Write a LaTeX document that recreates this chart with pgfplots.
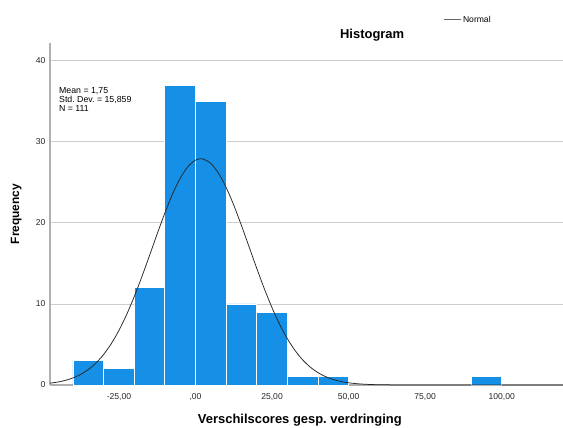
\documentclass[border=0pt]{standalone}
\usepackage{fontspec}
\setmainfont{Liberation Sans}
\usepackage{pgfplots}
\pgfplotsset{compat=1.18}
\definecolor{barblue}{RGB}{21,144,230}
\definecolor{gridgray}{RGB}{205,205,205}
\definecolor{axgray}{RGB}{175,175,175}
\frenchspacing
\begin{document}
\begin{tikzpicture}
\useasboundingbox (-50bp,-43bp) rectangle (513bp,385bp);
\begin{axis}[
  at={(0,0)}, anchor=south west,
  scale only axis, width=513bp, height=342bp,
  xmin=-47.5, xmax=120, ymin=0, ymax=42.2,
  axis lines=left,
  axis line style={-, draw=axgray, line width=1.6bp},
  major tick length=0pt,
  ytick={0,10,20,30,40},
  ymajorgrids, grid style={draw=gridgray, line width=0.9bp},
  xtick={-25,0,25,50,75,100},
  xticklabels={{-25,00},{,00},{25,00},{50,00},{75,00},{100,00}},
  /pgf/number format/assume math mode=true,
  tick label style={font=\fontsize{8.6}{10}\selectfont, text=black!85},
  yticklabel style={xshift=-1bp},
  xticklabel style={yshift=-5bp},
  xlabel={Verschilscores gesp. verdringing},
  ylabel={Frequency},
  xlabel style={font=\fontsize{13}{15}\selectfont\bfseries, at={(axis description cs:0.487,-0.102)}, anchor=center},
  ylabel style={font=\fontsize{12}{14}\selectfont\bfseries, at={(axis description cs:-0.066,0.5)}, anchor=center, rotate=0},
  title={Histogram},
  title style={font=\fontsize{13}{15}\selectfont\bfseries, at={(axis description cs:0.628,1.0)}, anchor=south, yshift=-8bp},
  legend style={at={(axis description cs:0.766,1.068)}, anchor=west, draw=none, fill=none, inner sep=0pt,
    font=\fontsize{8.6}{10}\selectfont, legend cell align=left,
    /tikz/every even column/.append style={column sep=0pt}},
  legend image code/.code={\draw[gray!80!black, line width=0.9bp] (0bp,0bp) -- (17bp,0bp);},
  clip=false,
]
\addplot[ybar interval, fill=barblue, draw=white, line width=0.9bp, forget plot]
  coordinates {(-40,3) (-30,2) (-20,12) (-10,37) (0,35) (10,10) (20,9) (30,1) (40,1) (50,1)};
\addplot[ybar interval, fill=barblue, draw=white, line width=0.9bp, forget plot]
  coordinates {(90,1) (100,1)};
\addplot[black!85, line width=0.75bp, smooth, mark=none] coordinates {
(-47.5,0.225) (-45,0.362) (-42.5,0.569) (-40,0.873) (-37.5,1.306) (-35,1.905)
(-32.5,2.711) (-30,3.764) (-27.5,5.096) (-25,6.731) (-22.5,8.675) (-20,10.90)
(-17.5,13.37) (-15,15.98) (-12.5,18.65) (-10,21.22) (-7.5,23.55) (-5,25.50)
(-2.5,26.93) (0,27.75) (1.75,27.92) (2.5,27.89) (5,27.34) (7.5,26.14) (10,24.39)
(12.5,22.19) (15,19.69) (17.5,17.05) (20,14.40) (22.5,11.86) (25,9.535)
(27.5,7.472) (30,5.715) (32.5,4.261) (35,3.099) (37.5,2.200) (40,1.524)
(42.5,1.029) (45,0.677) (47.5,0.435) (50,0.273) (52.5,0.167) (55,0.100)
(57.5,0.058) (60,0.032) (65,0.010) (70,0.003) (80,0.0) (100,0.0) (120,0.0)};
\addlegendentry{Normal}
\node[anchor=north west, align=left, inner sep=0pt, font=\fontsize{8.8}{9}\selectfont]
  at (axis description cs:0.0175,0.87) {Mean = 1,75\\Std. Dev. = 15,859\\N = 111};
\end{axis}
\end{tikzpicture}
\end{document}
